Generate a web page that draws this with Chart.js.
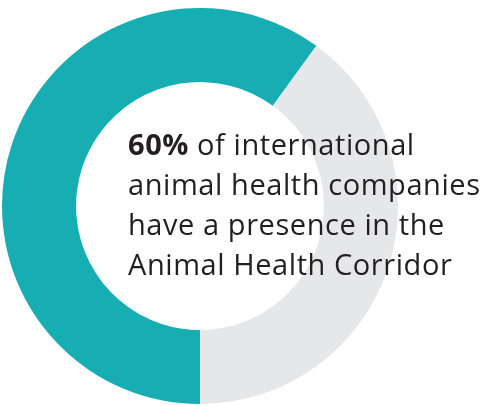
<!DOCTYPE html>
<html><head><meta charset="utf-8">
<script src="https://cdn.jsdelivr.net/npm/chart.js@4.4.1/dist/chart.umd.min.js"></script>
<style>html,body{margin:0;padding:0;background:#fff;}#c{display:block;}</style>
</head><body>
<canvas id="c" width="485" height="405"></canvas>
<script>
const categories = ["Present in the Animal Health Corridor", "Elsewhere"];
const values = [60, 40];
const colors = ["#16aeb2", "#e6e7e8"];
const headline = "60%";
const textLines = ["of international", "animal health companies", "have a presence in the", "Animal Health Corridor"];

const FONT_FAMILY = "'Open Sans', Lato, sans-serif";
const FONT_SIZE = 29;
const TARGET_W = 352;

const centerText = {
  id: 'centerText',
  afterDraw(chart) {
    const ctx = chart.ctx;
    ctx.save();
    ctx.fillStyle = "#231f20";
    ctx.textBaseline = "alphabetic";
    ctx.textAlign = "left";
    const x0 = 128, y0 = 155, lh = 40;
    ctx.font = "normal " + FONT_SIZE + "px " + FONT_FAMILY;
    const m = ctx.measureText(textLines[1]).width;
    const ls = Math.max(0, (TARGET_W - m) / (textLines[1].length - 1));
    ctx.letterSpacing = ls.toFixed(2) + "px";
    ctx.font = "bold " + FONT_SIZE + "px " + FONT_FAMILY;
    ctx.fillText(headline, x0, y0);
    const w = ctx.measureText(headline + " ").width;
    ctx.font = "normal " + FONT_SIZE + "px " + FONT_FAMILY;
    ctx.fillText(textLines[0], x0 + w, y0);
    for (let i = 1; i < textLines.length; i++) {
      ctx.fillText(textLines[i], x0, y0 + lh * i);
    }
    ctx.restore();
  }
};

new Chart(document.getElementById('c'), {
  type: 'doughnut',
  data: {
    labels: categories,
    datasets: [{ data: values, backgroundColor: colors, borderWidth: 0, hoverOffset: 0 }]
  },
  options: {
    responsive: false,
    animation: false,
    rotation: 180,
    cutout: '62.6%',
    layout: { padding: { left: 2, right: 87, top: 8, bottom: 1 } },
    plugins: { legend: { display: false }, tooltip: { enabled: false } }
  },
  plugins: [centerText]
});
</script>
</body></html>
